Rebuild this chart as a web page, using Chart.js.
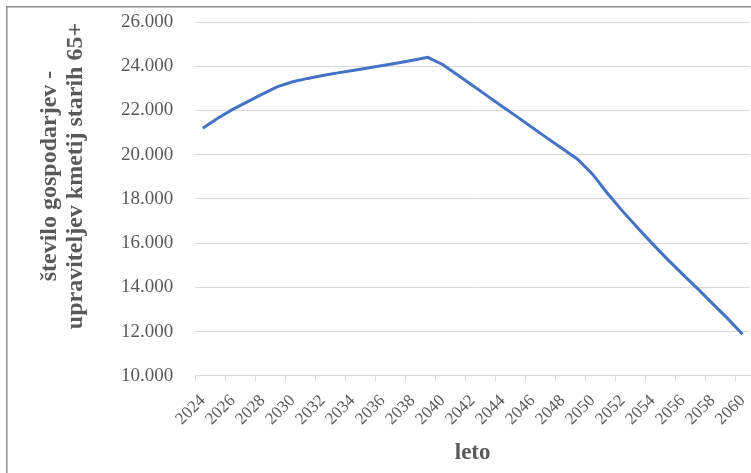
<!DOCTYPE html>
<html lang="sl">
<head>
<meta charset="utf-8">
<title>Število gospodarjev - upraviteljev kmetij starih 65+</title>
<script src="https://cdn.jsdelivr.net/npm/chart.js@4.4.1/dist/chart.umd.min.js"></script>
<style>
  html, body { margin: 0; padding: 0; background: #ffffff; }
  #wrap { position: relative; width: 751px; height: 473px; }
</style>
</head>
<body>
<div id="wrap"><canvas id="chart"></canvas></div>
<script>
// Projection of farm holders aged 65+ by year
const years = [
  '2024','2025','2026','2027','2028','2029','2030','2031','2032','2033',
  '2034','2035','2036','2037','2038','2039','2040','2041','2042','2043',
  '2044','2045','2046','2047','2048','2049','2050','2051','2052','2053',
  '2054','2055','2056','2057','2058','2059','2060'
];
const holders65 = [
  21200, 21650, 22050, 22400, 22750, 23080, 23300, 23450, 23580, 23700,
  23810, 23920, 24030, 24150, 24270, 24400, 24080, 23600, 23130, 22650,
  22170, 21700, 21220, 20740, 20270, 19800, 19120, 18250, 17450, 16700,
  15970, 15270, 14600, 13950, 13270, 12600, 11880
];
const yTitleLines = ['število gospodarjev -', 'upraviteljev kmetij starih 65+'];
const xTitle = 'leto';

const serif = "'Liberation Serif', 'Times New Roman', serif";
const textGrey = '#595959';
const gridGrey = '#d9d9d9';

// Outer frame (left and top edges are inside the canvas)
const framePlugin = {
  id: 'frame',
  afterDraw(chart) {
    const c = chart.ctx;
    c.save();
    c.strokeStyle = '#8a8a8a';
    c.lineWidth = 1.5;
    c.beginPath();
    c.moveTo(6.75, chart.height + 2);
    c.lineTo(6.75, 6.75);
    c.lineTo(chart.width + 2, 6.75);
    c.stroke();
    c.restore();
  }
};

// Two-line vertical title of the value axis
const yTitlePlugin = {
  id: 'yTitle',
  afterDraw(chart) {
    const c = chart.ctx;
    const lineX = [50, 76];
    const centerY = 176;
    c.save();
    c.fillStyle = textGrey;
    c.font = 'bold 24px ' + serif;
    c.textAlign = 'center';
    c.textBaseline = 'middle';
    yTitleLines.forEach((line, i) => {
      c.save();
      c.translate(lineX[i], centerY);
      c.rotate(-Math.PI / 2);
      c.fillText(line, 0, 0);
      c.restore();
    });
    c.restore();
  }
};

new Chart(document.getElementById('chart'), {
  type: 'line',
  data: {
    labels: years,
    datasets: [{
      data: holders65,
      borderColor: '#4472C4',
      borderWidth: 3,
      pointRadius: 0,
      tension: 0,
      fill: false
    }]
  },
  options: {
    responsive: true,
    maintainAspectRatio: false,
    animation: false,
    layout: { padding: { left: 113, right: 1, top: 22, bottom: 6 } },
    plugins: { legend: { display: false }, tooltip: { enabled: false } },
    scales: {
      x: {
        type: 'category',
        offset: true,
        afterFit: (scale) => { scale.paddingRight = 0; },
        grid: {
          offset: true,
          drawOnChartArea: false,
          tickLength: 5,
          tickColor: (ctx) => (ctx.index % 2 === 0 ? gridGrey : 'rgba(0,0,0,0)')
        },
        border: { display: true, color: gridGrey, width: 1 },
        ticks: {
          autoSkip: false,
          minRotation: 45,
          maxRotation: 45,
          padding: 10,
          color: textGrey,
          font: { family: serif, size: 17 },
          callback: function (value, index) {
            return index % 2 === 0 ? this.getLabelForValue(value) : '';
          }
        },
        title: {
          display: true,
          text: xTitle,
          color: textGrey,
          font: { family: serif, size: 23, weight: 'bold' },
          padding: { top: 0, bottom: 0 }
        }
      },
      y: {
        min: 10000,
        max: 26000,
        grid: { color: gridGrey, lineWidth: 1, drawTicks: true, tickLength: 14, tickColor: 'rgba(0,0,0,0)' },
        border: { display: false },
        ticks: {
          stepSize: 2000,
          padding: 8,
          color: textGrey,
          font: { family: serif, size: 19 },
          callback: (v) => (v / 1000).toFixed(3)
        },
        title: { display: false }
      }
    }
  },
  plugins: [framePlugin, yTitlePlugin]
});
</script>
</body>
</html>
